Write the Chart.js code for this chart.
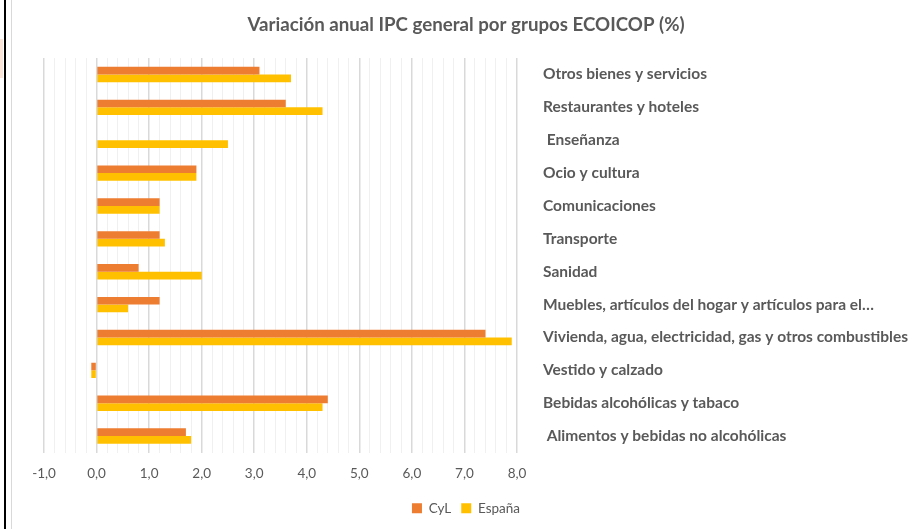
<!DOCTYPE html>
<html>
<head>
<meta charset="utf-8">
<script src="https://cdn.jsdelivr.net/npm/chart.js@4.4.0/dist/chart.umd.min.js"></script>
<style>
  html, body { margin: 0; padding: 0; background: #fff; }
  .wrap { position: relative; width: 920px; height: 529px; }
  .edge-black { position: absolute; left: 4px; top: 0; width: 2px; height: 529px; background: #000; }
  .edge-peach { position: absolute; left: 0; top: 39px; width: 3px; height: 39px; background: #fbe5d6; }
  .edge-gray { position: absolute; left: 11px; top: 0; width: 1px; height: 529px; background: #d9d9d9; }
</style>
</head>
<body>
<div class="wrap">
  <canvas id="grafico" width="920" height="529"></canvas>
  <div class="edge-peach"></div>
  <div class="edge-black"></div>
  <div class="edge-gray"></div>
</div>
<script>
const grupos = [
  "Otros bienes y servicios",
  "Restaurantes y hoteles",
  " Enseñanza",
  "Ocio y cultura",
  "Comunicaciones",
  "Transporte",
  "Sanidad",
  "Muebles, artículos del hogar y artículos para el…",
  "Vivienda, agua, electricidad, gas y otros combustibles",
  "Vestido y calzado",
  "Bebidas alcohólicas y tabaco",
  " Alimentos y bebidas no alcohólicas"
];

const cyl = [3.1, 3.6, null, 1.9, 1.2, 1.2, 0.8, 1.2, 7.4, -0.1, 4.4, 1.7];
const espana = [3.7, 4.3, 2.5, 1.9, 1.2, 1.3, 2.0, 0.6, 7.9, -0.1, 4.3, 1.8];

const xMin = -1, xMax = 8;

const gris = "#595959";

const ctx = document.getElementById("grafico").getContext("2d");

// ticks cada 0,2 -> solo los enteros llevan texto y linea fuerte
const esEntero = (v) => Math.abs(v - Math.round(v)) < 1e-6;

new Chart(ctx, {
  type: "bar",
  data: {
    labels: grupos,
    datasets: [
      {
        label: "CyL",
        data: cyl,
        backgroundColor: "#ED7D31",
        borderWidth: 0,
        categoryPercentage: 0.468,
        barPercentage: 1
      },
      {
        label: "España",
        data: espana,
        backgroundColor: "#FFC000",
        borderWidth: 0,
        categoryPercentage: 0.468,
        barPercentage: 1
      }
    ]
  },
  options: {
    indexAxis: "y",
    responsive: false,
    animation: false,
    layout: { padding: { left: 17, right: 5, top: 0, bottom: 4 } },
    plugins: {
      title: {
        display: true,
        text: "Variación anual IPC general por grupos ECOICOP (%)",
        color: gris,
        font: { family: "Lato", size: 18.7, weight: "bold" },
        padding: { top: 14, bottom: 21.6 }
      },
      legend: {
        position: "bottom",
        labels: {
          color: gris,
          font: { family: "Lato", size: 13.5 },
          boxWidth: 10,
          boxHeight: 10,
          padding: 10
        }
      },
      tooltip: { enabled: false }
    },
    scales: {
      x: {
        min: xMin,
        max: xMax,
        ticks: {
          stepSize: 0.2,
          autoSkip: false,
          maxRotation: 0,
          color: gris,
          padding: 13,
          font: { family: "Lato", size: 13.5 },
          callback: function (value) {
            if (!esEntero(value)) return "";
            return Math.round(value).toFixed(1).replace(".", ",");
          }
        },
        grid: {
          drawTicks: false,
          color: (c) => (c.tick && esEntero(c.tick.value) ? "#d9d9d9" : "#f0f0f0"),
          lineWidth: (c) => (c.tick && esEntero(c.tick.value) ? 1.5 : 1)
        },
        border: { display: false },
        afterFit: (scale) => { scale.height = 39; }
      },
      y: {
        position: "right",
        ticks: {
          color: gris,
          padding: 26,
          font: { family: "Lato", size: 15.5, weight: "bold" }
        },
        grid: { display: false, drawTicks: false },
        border: { display: false },
        afterFit: (scale) => { scale.width = 398; }
      },
      // eje vacio a la izquierda, solo para dejar hueco
      yHueco: {
        axis: "y",
        type: "category",
        position: "left",
        ticks: { display: false },
        grid: { display: false, drawTicks: false },
        border: { display: false },
        afterFit: (scale) => { scale.width = 27; }
      }
    }
  }
});
</script>
</body>
</html>
